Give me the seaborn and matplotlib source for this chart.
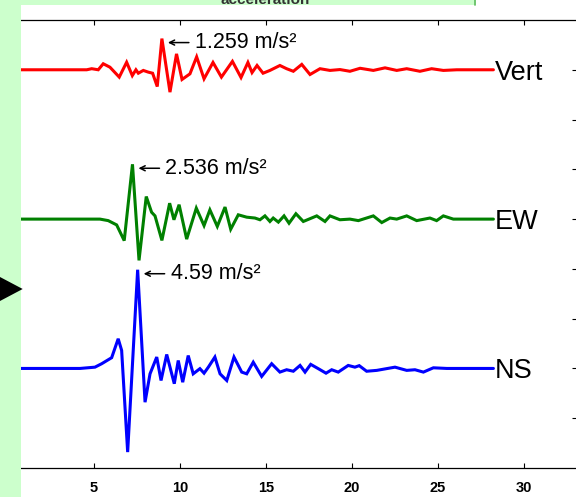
import numpy as np
import pandas as pd
import matplotlib
matplotlib.use('Agg')
import matplotlib.pyplot as plt
import seaborn as sns
from matplotlib.patches import Rectangle, Polygon, FancyArrowPatch
from matplotlib.lines import Line2D
from matplotlib.transforms import offset_copy

# time (s) / acceleration (m/s^2)
vert_t = [0.76, 4.58, 4.87, 5.25, 5.54, 5.93, 6.47, 6.90, 7.23, 7.44, 7.58, 7.87, 8.16, 8.41, 8.68,
          8.95, 9.42, 9.80, 10.12, 10.58, 10.97, 11.40, 11.92, 12.41, 13.05, 13.55, 13.95, 14.19,
          14.48, 14.83, 15.23, 15.81, 16.20, 16.59, 17.08, 17.56, 18.14, 18.72, 19.30, 19.88,
          20.47, 21.24, 21.92, 22.60, 23.18, 23.95, 24.63, 25.31, 26.09, 28.22]
vert_a = [0, 0, 0.05, 0, 0.28, 0.12, -0.34, 0.35, -0.27, 0, -0.16, -0.03, -0.11, -0.16, -0.78,
          1.45, -1.04, 0.74, -0.45, -0.19, 0.60, -0.42, 0.34, -0.34, 0.39, -0.36, 0.34, -0.13,
          0.20, -0.16, -0.03, 0.20, 0.05, -0.07, 0.25, -0.22, 0.05, -0.03, 0.01, -0.07,
          0.07, -0.03, 0.09, -0.03, 0.05, -0.07, 0.05, -0.03, 0, 0]

ew_t = [0.76, 5.35, 5.83, 6.32, 6.76, 7.24, 7.62, 8.04, 8.35, 8.55, 8.95, 9.40, 9.65, 9.95, 10.39,
        10.95, 11.40, 11.74, 12.17, 12.62, 12.95, 13.39, 13.88, 14.36, 14.65, 14.94, 15.23, 15.42,
        15.72, 16.05, 16.34, 16.74, 17.17, 17.95, 18.43, 18.72, 19.30, 19.88, 20.37, 21.24,
        21.73, 22.21, 22.60, 23.18, 23.76, 24.53, 24.92, 25.31, 25.89, 26.67, 28.22]
ew_a = [0, 0, -0.07, -0.27, -1.00, 2.55, -1.92, 1.05, 0.32, 0.15, -0.99, 0.74, -0.03, 0.67, -0.93,
        0.51, -0.30, 0.43, -0.34, 0.56, -0.47, 0.20, 0.09, 0.05, -0.03, 0.15, -0.11, 0.05,
        -0.14, 0.15, -0.19, 0.25, -0.11, 0.15, -0.11, 0.15, -0.03, 0, -0.07, 0.15,
        -0.16, 0.05, 0, 0.15, -0.07, 0.05, -0.07, 0.15, 0, 0, 0]

ns_t = [0.76, 4.19, 5.06, 5.45, 6.03, 6.41, 6.61, 6.96, 7.54, 7.97, 8.26, 8.65, 8.90, 9.23, 9.67,
        9.90, 10.16, 10.48, 10.77, 11.16, 11.40, 11.65, 12.03, 12.33, 12.72, 13.14, 13.59, 13.88,
        14.26, 14.75, 15.33, 15.81, 16.20, 16.59, 16.98, 17.27, 17.60, 18.04, 18.49, 18.82,
        19.20, 19.78, 20.17, 20.42, 20.85, 21.44, 22.50, 23.18, 23.66, 24.15, 24.73, 25.51, 28.22]
ns_a = [0, 0, 0.06, 0.22, 0.50, 1.38, 0.84, -3.89, 4.59, -1.57, -0.25, 0.53, -0.56, 0.65, -0.71,
        0.37, -0.64, 0.60, -0.25, -0.01, -0.22, 0.06, 0.53, -0.25, -0.56, 0.53, -0.17, -0.25,
        0.29, -0.37, 0.22, -0.17, -0.06, -0.13, 0.14, -0.17, 0.19, -0.01, -0.22, -0.06,
        -0.17, 0.14, 0.06, 0.13, -0.13, -0.09, 0.06, -0.09, -0.06, -0.17, 0.03, 0, 0]

names = ['Vert', 'EW', 'NS']
peak_labels = ['1.259', '2.536', '4.59']
offsets = [8, 5, 2]
colors = ['#ff0000', '#008000', '#0000ff']
xticks = [5, 10, 15, 20, 25, 30]

scale = 0.432  # trace units per m/s^2

sns.set_style('white')
plt.rcParams['font.family'] = ['Liberation Sans', 'DejaVu Sans']
plt.rcParams['text.color'] = 'black'
plt.rcParams['xtick.color'] = 'black'
plt.rcParams['ytick.color'] = 'black'

frames = []
for name, t, a, off in zip(names, [vert_t, ew_t, ns_t], [vert_a, ew_a, ns_a], offsets):
    frames.append(pd.DataFrame({'comp': name, 't': t, 'acc': a,
                                'y': off + np.array(a) * scale}))
df = pd.concat(frames, ignore_index=True)

fig = plt.figure(figsize=(5.76, 4.97), dpi=100)
ax = fig.add_axes([21 / 576, 29 / 497, 555.5 / 576, 448 / 497])

sns.lineplot(data=df, x='t', y='y', hue='comp', palette=dict(zip(names, colors)),
             estimator=None, sort=False, lw=2.2, legend=False, ax=ax,
             solid_joinstyle='miter')

ax.set_xlim(0.76, 33.05)
ax.set_ylim(0, 9)
ax.set_xticks(xticks)
ax.set_yticks(range(1, 9))
ax.set_xlabel('')
ax.set_ylabel('')
ax.tick_params(axis='x', direction='in', length=3.6, width=0.8, top=True, bottom=True,
               labelbottom=False, colors='black')
ax.tick_params(axis='y', direction='in', length=3.6, width=0.8, left=False, right=True,
               labelleft=False, labelright=False)
ax.spines['left'].set_visible(False)
for s in ['top', 'bottom', 'right']:
    ax.spines[s].set_linewidth(0.9)
    ax.spines[s].set_color('black')

# x tick labels, placed on the tick positions just under the axis
lab_tr = offset_copy(ax.get_xaxis_transform(), fig=fig, y=-9, units='points')
for xt in xticks:
    ax.text(xt, 0, str(xt), transform=lab_tr, ha='center', va='top',
            fontsize=10.5, fontweight='bold', color='black', clip_on=False)

# peak annotations (arrow + value) and component names
px = 1 / 17.2  # one pixel in time units
for name, lab, off in zip(names, peak_labels, offsets):
    g = df[df.comp == name]
    i = g['y'].idxmax()
    tx, ty = g.loc[i, 't'] + 6 * px, g.loc[i, 'y'] - 0.08
    ax.add_patch(FancyArrowPatch((tx + 21 * px, ty), (tx, ty), arrowstyle='->', lw=1.1,
                                 color='black', shrinkA=0, shrinkB=0, mutation_scale=9))
    ax.text(tx + 27 * px, ty, lab + ' m/s\u00b2', fontsize=15.5, ha='left', va='center')
    ax.text(g['t'].iloc[-1] + 0.08, off - 0.2, name, fontsize=19.5, ha='left', va='baseline')

# surrounding GUI bits
fig.add_artist(Rectangle((0, 0), 21 / 576, 1, transform=fig.transFigure,
                         facecolor='#ccffcc', edgecolor='none', zorder=5))
fig.add_artist(Rectangle((21 / 576, 1 - 5 / 497), 453 / 576, 5 / 497, transform=fig.transFigure,
                         facecolor='#ccffcc', edgecolor='none', zorder=5))
fig.add_artist(Line2D([474.5 / 576, 474.5 / 576], [1 - 5 / 497, 1], transform=fig.transFigure,
                      color='#55bb55', lw=1.2, zorder=6))
fig.text(265.5 / 576, 1 - 3.5 / 497, 'acceleration', ha='center', va='baseline',
         fontsize=11, fontweight='bold', color='#333333', zorder=7)
fig.add_artist(Polygon([(0, 1 - 277 / 497), (22.7 / 576, 1 - 289 / 497), (0, 1 - 301 / 497)],
                       closed=True, transform=fig.transFigure, facecolor='black',
                       edgecolor='none', zorder=8))

fig.savefig('out.png', dpi=100)
